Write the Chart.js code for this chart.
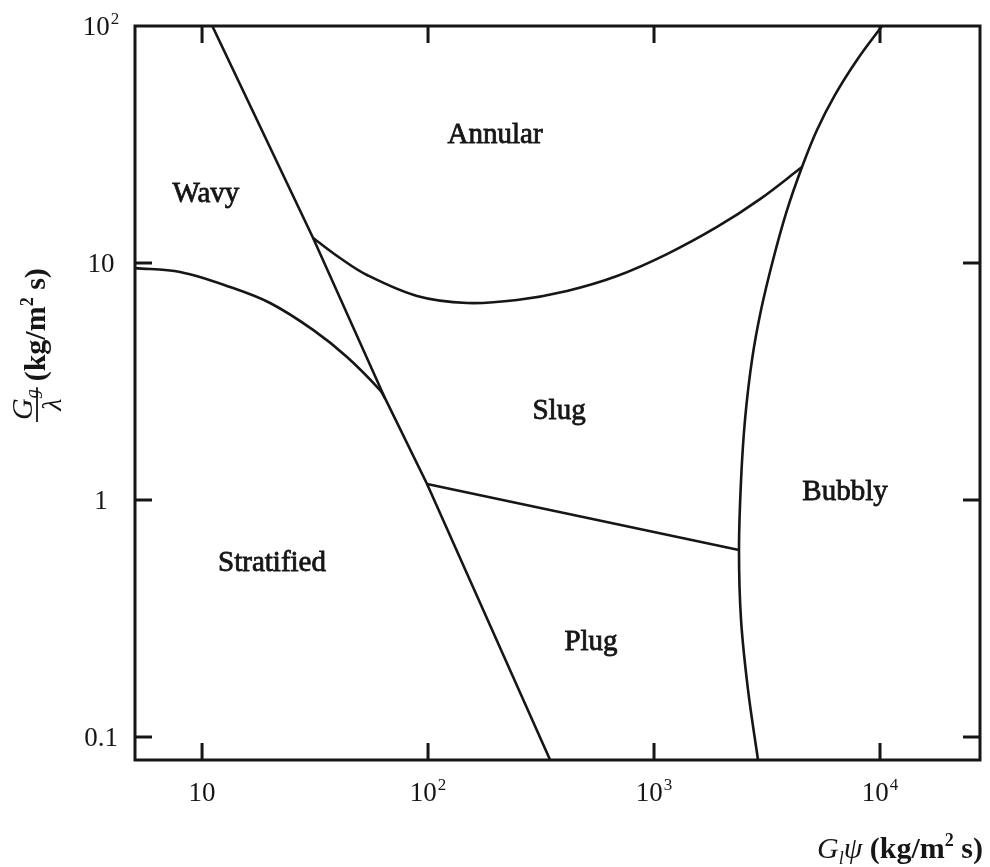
<!DOCTYPE html>
<html>
<head>
<meta charset="utf-8">
<script src="https://cdn.jsdelivr.net/npm/chart.js@4.4.1/dist/chart.umd.min.js"></script>
<style>
  html, body { margin: 0; padding: 0; background: #fff; }
  #wrap { width: 990px; height: 867px; }
</style>
</head>
<body>
<div id="wrap"><canvas id="map" width="990" height="867"></canvas></div>
<script>
// Baker flow-pattern map: boundaries in terms of G_l*psi (x) and G_g/lambda (y), kg/m² s

// Wavy/Stratified | Annular/Slug/Plug transition (near-straight line)
const transitionX = [11.1, 31.0, 64.5, 99, 347];
const transitionY = [100, 12.75, 2.69, 1.168, 0.08];

// Wavy | Stratified boundary
const wavyStratX = [5.05, 8.0, 13.3, 20.0, 31.0, 43.8, 61.3, 64.5];
const wavyStratY = [9.52, 9.16, 7.92, 6.78, 5.22, 4.01, 2.91, 2.69];

// Annular | Slug boundary
const annularSlugX = [31.0, 40.8, 53.7, 89.4, 148.8, 247.6, 412, 686, 1141, 1900, 2944, 4517];
const annularSlugY = [12.75, 10.5, 8.90, 7.26, 6.78, 6.98, 7.62, 8.81, 10.9, 14.19, 18.6, 25.4];

// Bubbly boundary
const bubblyX = [10205, 7910, 6322, 5262, 4517, 3877, 3362, 2975, 2714, 2527, 2427, 2377, 2427, 2606, 2885];
const bubblyY = [100, 71.9, 51.2, 36.4, 25.4, 16.7, 10.3, 6.33, 3.90, 2.18, 1.21, 0.615, 0.312, 0.158, 0.08];

// Slug | Plug boundary
const slugPlugX = [99, 2377];
const slugPlugY = [1.168, 0.615];

// Region names and their anchor points
const regionNames = ['Annular', 'Wavy', 'Slug', 'Bubbly', 'Stratified', 'Plug'];
const regionX = [198, 10.4, 380, 7000, 20.4, 526];
const regionY = [32.1, 18.1, 2.20, 1.0, 0.50, 0.233];

// Axis ticks ('^' marks a superscript exponent)
const xTickValues = [10, 100, 1000, 10000];
const xTickLabels = ['10', '10^2', '10^3', '10^4'];
const yTickValues = [0.1, 1, 10, 100];
const yTickLabels = ['0.1', '1', '10', '10^2'];

const INK = '#161616';
const SERIF = '"Liberation Serif", "Times New Roman", serif';

function toPoints(xs, ys) {
  return xs.map((x, i) => ({ x: x, y: ys[i] }));
}

function boundary(xs, ys, tension) {
  return {
    data: toPoints(xs, ys),
    borderColor: INK,
    borderWidth: 2.6,
    pointRadius: 0,
    tension: tension,
    fill: false
  };
}

// draw "base^exp" text; returns total width
function drawPowerLabel(ctx, label, x, y, align, size) {
  const parts = label.split('^');
  ctx.font = size + 'px ' + SERIF;
  const wb = ctx.measureText(parts[0]).width;
  let we = 0;
  const supSize = Math.round(size * 0.62);
  if (parts[1]) {
    ctx.font = supSize + 'px ' + SERIF;
    we = ctx.measureText(parts[1]).width + 1;
  }
  const total = wb + we;
  let x0 = x;
  if (align === 'center') x0 = x - total / 2;
  else if (align === 'right') x0 = x - total;
  ctx.textAlign = 'left';
  ctx.textBaseline = 'alphabetic';
  ctx.font = size + 'px ' + SERIF;
  ctx.fillText(parts[0], x0, y);
  if (parts[1]) {
    ctx.font = supSize + 'px ' + SERIF;
    ctx.fillText(parts[1], x0 + wb + 1, y - size * 0.42);
  }
  return total;
}

// sequence of text runs: [text, font, dy]
function drawRuns(ctx, runs, x, y) {
  let cx = x;
  ctx.textAlign = 'left';
  ctx.textBaseline = 'alphabetic';
  for (const r of runs) {
    ctx.font = r[1];
    ctx.fillText(r[0], cx, y + (r[2] || 0));
    cx += ctx.measureText(r[0]).width;
  }
  return cx - x;
}
function measureRuns(ctx, runs) {
  let w = 0;
  for (const r of runs) { ctx.font = r[1]; w += ctx.measureText(r[0]).width; }
  return w;
}

const mapDecor = {
  id: 'mapDecor',
  afterDatasetsDraw(chart) {
    const ctx = chart.ctx;
    const a = chart.chartArea;
    const xs = chart.scales.x, ys = chart.scales.y;
    ctx.save();
    ctx.strokeStyle = INK;
    ctx.fillStyle = INK;

    // frame
    ctx.lineWidth = 3;
    ctx.strokeRect(a.left, a.top, a.right - a.left, a.bottom - a.top);

    // inward tick marks on all four sides
    const tl = 17;
    ctx.lineWidth = 3;
    ctx.beginPath();
    xTickValues.forEach(v => {
      const px = xs.getPixelForValue(v);
      ctx.moveTo(px, a.bottom); ctx.lineTo(px, a.bottom - tl);
      ctx.moveTo(px, a.top); ctx.lineTo(px, a.top + tl);
    });
    yTickValues.forEach(v => {
      const py = ys.getPixelForValue(v);
      if (py <= a.top + 2) return;
      ctx.moveTo(a.left, py); ctx.lineTo(a.left + tl, py);
      ctx.moveTo(a.right, py); ctx.lineTo(a.right - tl, py);
    });
    ctx.stroke();

    // tick labels
    xTickValues.forEach((v, i) => {
      drawPowerLabel(ctx, xTickLabels[i], xs.getPixelForValue(v), 801, 'center', 27);
    });
    yTickValues.forEach((v, i) => {
      drawPowerLabel(ctx, yTickLabels[i], 101, ys.getPixelForValue(v) + 9, 'center', 27);
    });

    // region names
    ctx.textAlign = 'center';
    ctx.textBaseline = 'alphabetic';
    ctx.font = '29px ' + SERIF;
    ctx.lineWidth = 0.8;
    regionNames.forEach((name, i) => {
      const px = xs.getPixelForValue(regionX[i]);
      const py = ys.getPixelForValue(regionY[i]);
      ctx.fillText(name, px, py);
      ctx.strokeText(name, px, py);
    });

    // x-axis title: G_l psi (kg/m² s)
    const fi = 'italic 30px ' + SERIF, fs = 'italic 18px ' + SERIF;
    const fb = 'bold 30px ' + SERIF, fbs = 'bold 18px ' + SERIF;
    const xRuns = [
      ['G', fi, 0], ['l', fs, 6], ['\u03C8', fi, 0],
      [' (kg/m', fb, 0], ['2', fbs, -12], [' s)', fb, 0]
    ];
    const xw = measureRuns(ctx, xRuns);
    drawRuns(ctx, xRuns, 983 - xw, 858);

    // y-axis title: (G_g / lambda) (kg/m² s), reading upward
    ctx.save();
    ctx.translate(45, 422);
    ctx.rotate(-Math.PI / 2);
    const num = [['G', fi, 0], ['g', fs, 6]];
    const nw = measureRuns(ctx, num);
    ctx.font = 'italic 28px ' + SERIF;
    const dw = ctx.measureText('\u03BB').width;
    const fw = Math.max(nw, dw) + 4;
    drawRuns(ctx, num, (fw - nw) / 2, -13);
    ctx.font = 'italic 28px ' + SERIF;
    ctx.textAlign = 'left';
    ctx.fillText('\u03BB', (fw - dw) / 2, 16);
    ctx.lineWidth = 1.8;
    ctx.beginPath();
    ctx.moveTo(0, -8); ctx.lineTo(fw, -8);
    ctx.stroke();
    const yRuns = [['(kg/m', fb, 0], ['2', fbs, -12], [' s)', fb, 0]];
    drawRuns(ctx, yRuns, fw + 6, 0);
    ctx.restore();

    ctx.restore();
  }
};

new Chart(document.getElementById('map').getContext('2d'), {
  type: 'line',
  data: {
    datasets: [
      boundary(transitionX, transitionY, 0),
      boundary(wavyStratX, wavyStratY, 0.35),
      boundary(annularSlugX, annularSlugY, 0.35),
      boundary(bubblyX, bubblyY, 0.35),
      boundary(slugPlugX, slugPlugY, 0)
    ]
  },
  options: {
    responsive: false,
    animation: false,
    devicePixelRatio: 1,
    layout: { padding: { top: 26, right: 10, left: 0, bottom: 0 } },
    plugins: { legend: { display: false }, tooltip: { enabled: false } },
    scales: {
      x: {
        type: 'logarithmic',
        min: 5.05,
        max: 27700,
        ticks: { display: false },
        grid: { display: false },
        border: { display: false },
        afterBuildTicks(s) { s.ticks = xTickValues.map(v => ({ value: v })); },
        afterFit(s) { s.height = 107; }
      },
      y: {
        type: 'logarithmic',
        min: 0.08,
        max: 100,
        ticks: { display: false },
        grid: { display: false },
        border: { display: false },
        afterBuildTicks(s) { s.ticks = yTickValues.map(v => ({ value: v })); },
        afterFit(s) { s.width = 135; }
      }
    }
  },
  plugins: [mapDecor]
});
</script>
</body>
</html>
